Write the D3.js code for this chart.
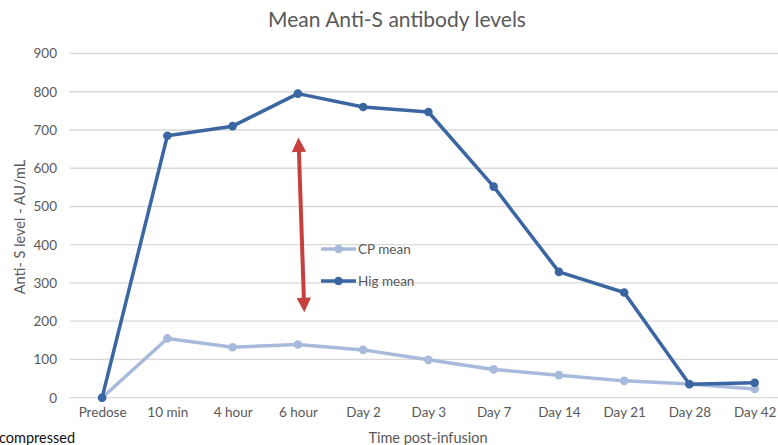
<!DOCTYPE html>
<html><head><meta charset="utf-8">
<script src="https://cdn.jsdelivr.net/npm/d3@7"></script>
<style>
html,body{margin:0;padding:0;background:#fff;}
svg{display:block;font-family:Lato,"Open Sans",sans-serif;}
</style></head>
<body><svg id="chart" width="778" height="445"></svg>
<script>
const categories = ["Predose","10 min","4 hour","6 hour","Day 2","Day 3","Day 7","Day 14","Day 21","Day 28","Day 42"];
const cpMean  = [0,155,132,139,125,99,74,59,44,36,23];
const higMean = [0,685,710,795,760,747,552,329,275,35,39];
const yTicks = [0,100,200,300,400,500,600,700,800,900];
const seriesNames = ["CP mean","Hig mean"];
const arrowSpan = {category:"6 hour", from:221, to:683};

(function(){
const svg = d3.select("#chart");
const W = 778, H = 445;
const m = {left:69.5, right:-9.3, top:53.5, bottom:47.3};
const x = d3.scalePoint().domain(categories).range([m.left+32.6, W-m.right-32.6]);
const y = d3.scaleLinear().domain([0,900]).range([H-m.bottom, m.top]);
const grey = "#595959";
const ff = "Lato,'Open Sans',sans-serif";

// gridlines
svg.append("g").selectAll("line").data(yTicks).join("line")
  .attr("x1", m.left).attr("x2", W)
  .attr("y1", d=>y(d)).attr("y2", d=>y(d))
  .attr("stroke", "#d9d9d9").attr("stroke-width", 1.3);

// y axis labels
const yAxis = d3.axisLeft(y).tickValues(yTicks).tickSize(0).tickPadding(0);
const gy = svg.append("g").attr("transform", `translate(57,0)`).call(yAxis);
gy.select(".domain").remove();
gy.selectAll("text").attr("fill",grey).attr("font-size",13.5).attr("font-family",ff);

// x axis labels
const xAxis = d3.axisBottom(x).tickSize(0).tickPadding(0);
const gx = svg.append("g").attr("transform", `translate(0,${y(0)+10})`).call(xAxis);
gx.select(".domain").remove();
gx.selectAll("text").attr("fill",grey).attr("font-size",13.5).attr("font-family",ff);

// title
svg.append("text").attr("x", 397).attr("y", 27).attr("text-anchor","middle")
  .attr("fill",grey).attr("font-size",21).text("Mean Anti-S antibody levels");

// axis titles
svg.append("text").attr("transform","translate(25,227) rotate(-90)").attr("text-anchor","middle")
  .attr("fill",grey).attr("font-size",14.5).text("Anti- S level - AU/mL");
svg.append("text").attr("x", 428).attr("y", 443).attr("text-anchor","middle")
  .attr("fill",grey).attr("font-size",14.5).text("Time post-infusion");
svg.append("text").attr("x", -1).attr("y", 443)
  .attr("fill","#111").attr("font-size",14.5).text("compressed");

const colors = {"CP mean":"#a7badb","Hig mean":"#3b66a2"};
const line = d3.line().x((d,i)=>x(categories[i])).y(d=>y(d));

function drawSeries(vals, name){
  const g = svg.append("g");
  g.append("path").datum(vals).attr("d", line).attr("fill","none")
    .attr("stroke", colors[name]).attr("stroke-width", 3.5).attr("stroke-linejoin","round");
  g.selectAll("circle").data(vals).join("circle")
    .attr("cx",(d,i)=>x(categories[i])).attr("cy", d=>y(d)).attr("r",4.3)
    .attr("fill", colors[name]);
}
drawSeries(cpMean, "CP mean");
drawSeries(higMean, "Hig mean");

// red double arrow
const ax = x(arrowSpan.category);
const yTop = y(arrowSpan.to), yBot = y(arrowSpan.from);
const x1 = ax+1, x2 = ax+6;
const red = "#c6403e";
const defs = svg.append("defs");
defs.append("marker").attr("id","ah").attr("viewBox","0 0 10 10").attr("refX",1).attr("refY",5)
  .attr("markerWidth",3.8).attr("markerHeight",3.6).attr("orient","auto-start-reverse")
  .append("path").attr("d","M0,0 L10,5 L0,10 z").attr("fill",red);
svg.append("line").attr("x1",x1).attr("y1",yTop+14).attr("x2",x2).attr("y2",yBot-14)
  .attr("stroke",red).attr("stroke-width",4)
  .attr("marker-start","url(#ah)").attr("marker-end","url(#ah)");

// legend
const lg = svg.append("g");
const legendX = 321, legendY = [249, 281];
seriesNames.forEach((n,i)=>{
  const gg = lg.append("g").attr("transform",`translate(${legendX},${legendY[i]})`);
  gg.append("line").attr("x1",0).attr("x2",35).attr("stroke",colors[n]).attr("stroke-width",3.5);
  gg.append("circle").attr("cx",17.5).attr("r",4.3).attr("fill",colors[n]);
  gg.append("text").attr("x",37).attr("dy","0.35em").attr("fill",grey).attr("font-size",13.5).text(n);
});
})();
</script></body></html>
